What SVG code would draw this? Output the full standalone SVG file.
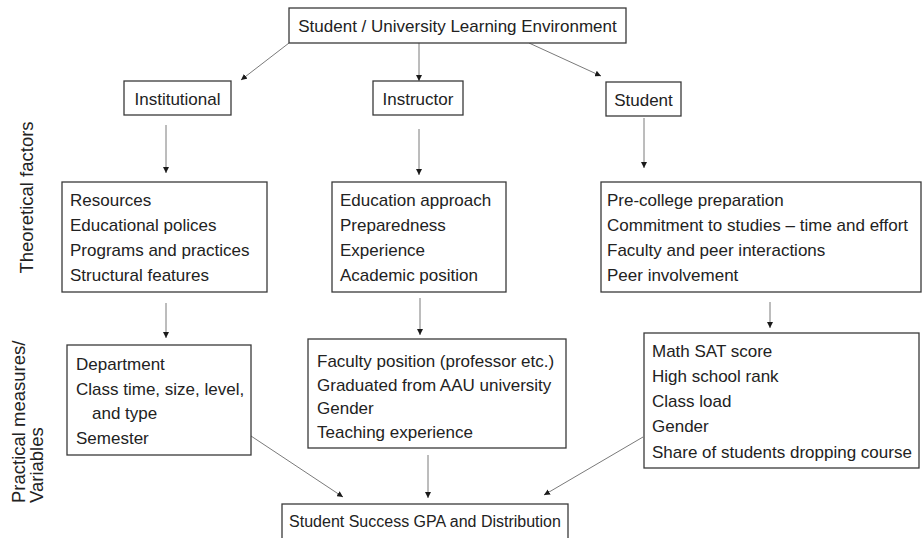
<svg xmlns="http://www.w3.org/2000/svg" width="924" height="538" viewBox="0 0 924 538">
  <style>
    .box { fill: #ffffff; stroke: #3a3a3a; stroke-width: 1.3; }
    .lbl { font-family: "Liberation Sans", Arial, sans-serif; font-size: 17px; fill: #222222; }
    .mid { text-anchor: middle; }
    .side { font-family: "Liberation Sans", Arial, sans-serif; font-size: 18.5px; fill: #222222; }
    .conn line { stroke: #7a7a7a; stroke-width: 1; marker-end: url(#arrow); }
  </style>
  <defs>
    <marker id="arrow" viewBox="0 0 10 10" refX="10" refY="5" markerWidth="6" markerHeight="6" markerUnits="userSpaceOnUse" orient="auto">
      <path d="M0,0 L10,5 L0,10 Z" fill="#1a1a1a"/>
    </marker>
  </defs>
  <rect width="924" height="538" fill="#ffffff"/>

  <!-- side labels -->
  <text class="side" transform="translate(33,197.5) rotate(-90)" text-anchor="middle">Theoretical factors</text>
  <text class="side" transform="translate(25,503) rotate(-90)">Practical measures/</text>
  <text class="side" transform="translate(43,503) rotate(-90)">Variables</text>

  <!-- connectors -->
  <g id="connectors" class="conn">
    <line x1="289" y1="43" x2="241" y2="80"/>
    <line x1="419" y1="43" x2="419" y2="81"/>
    <line x1="529" y1="43" x2="601" y2="76"/>
    <line x1="166" y1="125" x2="166" y2="173"/>
    <line x1="419" y1="129" x2="419" y2="175"/>
    <line x1="644" y1="118" x2="644" y2="168"/>
    <line x1="166" y1="303" x2="166" y2="338"/>
    <line x1="420" y1="298" x2="420" y2="335"/>
    <line x1="770" y1="302" x2="770" y2="328"/>
    <line x1="251" y1="436" x2="343" y2="497"/>
    <line x1="428" y1="455" x2="428" y2="498"/>
    <line x1="643" y1="437" x2="544" y2="495"/>
  </g>

  <!-- level 0 -->
  <g id="environment">
    <rect class="box" x="289" y="8" width="337" height="35"/>
    <text class="lbl mid" x="457.5" y="32">Student / University Learning Environment</text>
  </g>

  <!-- level 1 -->
  <g id="institutional">
    <rect class="box" x="124" y="81" width="107" height="34"/>
    <text class="lbl mid" x="177.5" y="105">Institutional</text>
  </g>
  <g id="instructor">
    <rect class="box" x="373" y="81" width="90" height="34"/>
    <text class="lbl mid" x="418" y="105">Instructor</text>
  </g>
  <g id="student">
    <rect class="box" x="606" y="82" width="75" height="34"/>
    <text class="lbl mid" x="643.5" y="106">Student</text>
  </g>

  <!-- level 2: theoretical factors -->
  <g id="institutional-factors">
    <rect class="box" x="62" y="182" width="205" height="110"/>
    <text class="lbl" x="70" y="206">Resources</text>
    <text class="lbl" x="70" y="231">Educational polices</text>
    <text class="lbl" x="70" y="256">Programs and practices</text>
    <text class="lbl" x="70" y="281">Structural features</text>
  </g>
  <g id="instructor-factors">
    <rect class="box" x="332" y="182" width="174" height="110"/>
    <text class="lbl" x="340" y="206">Education approach</text>
    <text class="lbl" x="340" y="231">Preparedness</text>
    <text class="lbl" x="340" y="256">Experience</text>
    <text class="lbl" x="340" y="281">Academic position</text>
  </g>
  <g id="student-factors">
    <rect class="box" x="601" y="182" width="320" height="110"/>
    <text class="lbl" x="607" y="206">Pre-college preparation</text>
    <text class="lbl" x="607" y="231">Commitment to studies – time and effort</text>
    <text class="lbl" x="607" y="256">Faculty and peer interactions</text>
    <text class="lbl" x="607" y="281">Peer involvement</text>
  </g>

  <!-- level 3: practical measures -->
  <g id="institutional-measures">
    <rect class="box" x="67" y="345" width="184" height="110"/>
    <text class="lbl" x="76" y="370">Department</text>
    <text class="lbl" x="76" y="394.5">Class time, size, level,</text>
    <text class="lbl" x="92" y="419">and type</text>
    <text class="lbl" x="76" y="443.5">Semester</text>
  </g>
  <g id="instructor-measures">
    <rect class="box" x="308" y="339" width="258" height="109"/>
    <text class="lbl" x="317" y="367">Faculty position (professor etc.)</text>
    <text class="lbl" x="317" y="390.7">Graduated from AAU university</text>
    <text class="lbl" x="317" y="414.4">Gender</text>
    <text class="lbl" x="317" y="438">Teaching experience</text>
  </g>
  <g id="student-measures">
    <rect class="box" x="644" y="333" width="275" height="135"/>
    <text class="lbl" x="652" y="356.5">Math SAT score</text>
    <text class="lbl" x="652" y="382">High school rank</text>
    <text class="lbl" x="652" y="407">Class load</text>
    <text class="lbl" x="652" y="432">Gender</text>
    <text class="lbl" x="652" y="457.5">Share of students dropping course</text>
  </g>

  <!-- outcome -->
  <g id="outcome">
    <rect class="box" x="282" y="504" width="286" height="40"/>
    <text class="lbl mid" x="425" y="527" style="font-size:16px">Student Success GPA and Distribution</text>
  </g>
</svg>
